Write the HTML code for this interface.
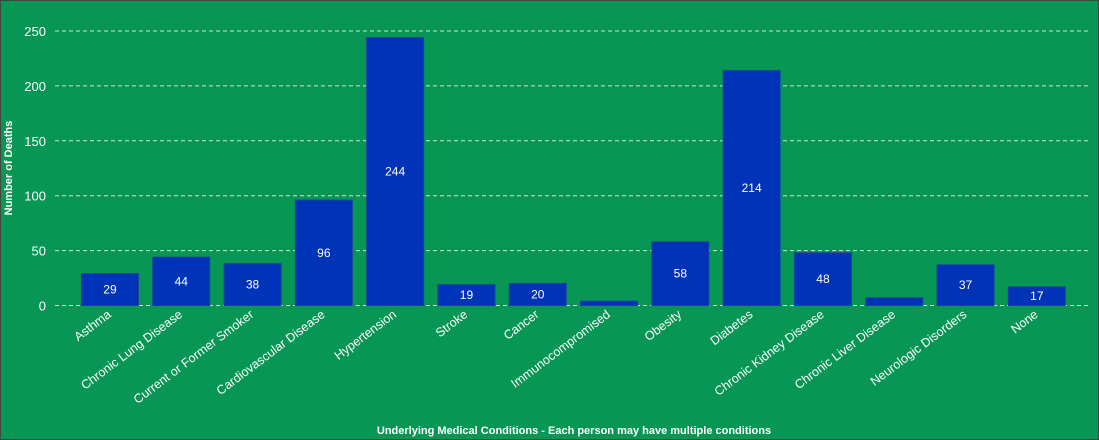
<!DOCTYPE html>
<html><head><meta charset="utf-8"><style>
html,body{margin:0;padding:0;background:#079654;}
svg{display:block;font-family:"Liberation Sans",sans-serif;}
</style></head><body>
<svg id="chart" width="1099" height="440">
<rect x="0.5" y="0.5" width="1098" height="439" fill="#079654" stroke="#3a4a40"/>
<g id="grid"></g><g id="bars"></g><g id="labels"></g>
<text x="12" y="168" transform="rotate(-90 12 168)" text-anchor="middle" fill="#fff" font-size="11" font-weight="bold">Number of Deaths</text>
<text x="574" y="434" text-anchor="middle" fill="#fff" font-size="11" font-weight="bold">Underlying Medical Conditions - Each person may have multiple conditions</text>
</svg>
<script>
const categories=["Asthma","Chronic Lung Disease","Current or Former Smoker","Cardiovascular Disease","Hypertension","Stroke","Cancer","Immunocompromised","Obesity","Diabetes","Chronic Kidney Disease","Chronic Liver Disease","Neurologic Disorders","None"];
const values=[29,44,38,96,244,19,20,4,58,214,48,7,37,17];
const labelsShown=[true,true,true,true,true,true,true,false,true,true,true,false,true,true];
const yTicks=[0,50,100,150,200,250];
const NS="http://www.w3.org/2000/svg";
const y0=305.5,yScale=1.098,xStart=74.3,band=71.3,bw=57;
const y=v=>y0-v*yScale;
const x=i=>xStart+i*band+(band-bw)/2;
function mk(t,a,p){const e=document.createElementNS(NS,t);for(const k in a)e.setAttribute(k,a[k]);p.appendChild(e);return e;}
const grid=document.getElementById('grid'),bars=document.getElementById('bars'),labs=document.getElementById('labels');
yTicks.forEach(t=>{
 const l=mk('line',{x1:55,x2:1088,y1:y(t),y2:y(t),stroke:'#cfe8da','stroke-width':1,'stroke-dasharray':'4,3'},grid);
 
 
 const tx=mk('text',{x:46,y:y(t)+5,'text-anchor':'end',fill:'#fff','font-size':13},grid);
 tx.textContent=t;
 
 
});
categories.forEach((c,i)=>{
 const v=values[i];
 const r=mk('rect',{x:x(i),y:y(v),width:bw,height:v*yScale,fill:'#0033b8',stroke:'#1a3fa0','stroke-width':1},bars);
 
 
 if(labelsShown[i]){
  const t=mk('text',{x:x(i)+bw/2,y:y(v/2)+4,'text-anchor':'middle',fill:'#fff','font-size':12},bars);
  t.textContent=v;
  
  
 }
 const cx=x(i)+bw/2+2,cy=316;
 const t=mk('text',{x:cx,y:cy,'text-anchor':'end',fill:'#fff','font-size':12.5,transform:`rotate(-37 ${cx} ${cy})`},labs);
 t.textContent=c;
 
 
});
</script>
</body></html>
